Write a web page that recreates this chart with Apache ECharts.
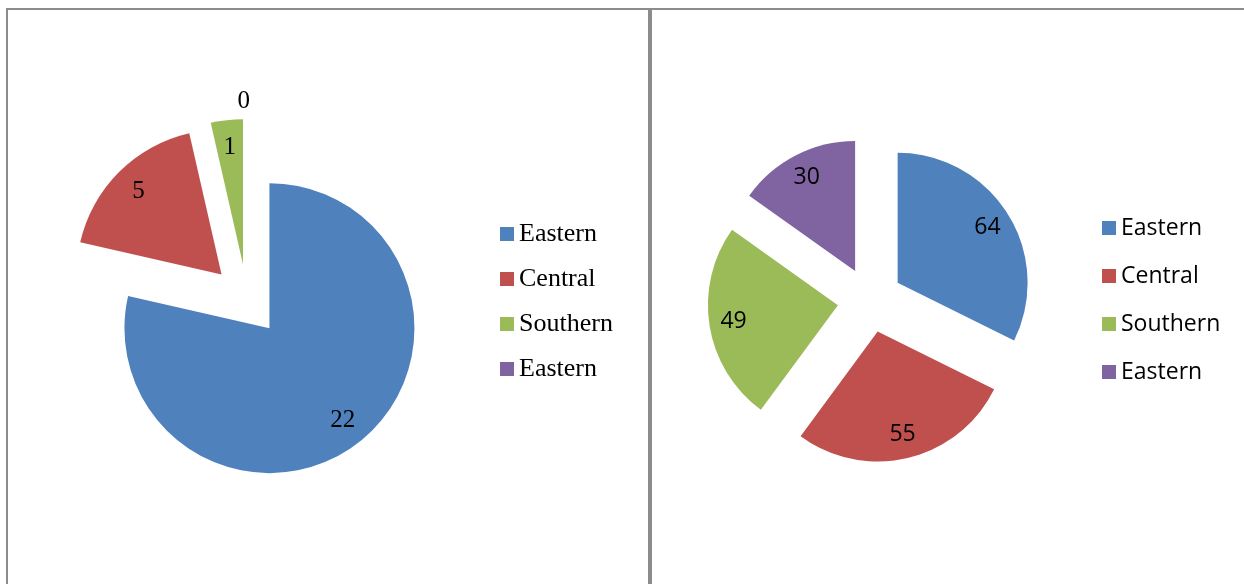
<!DOCTYPE html>
<html>
<head>
<meta charset="utf-8">
<script src="https://cdn.jsdelivr.net/npm/echarts@6/dist/echarts.min.js"></script>
<style>
  html, body { margin: 0; padding: 0; background: #fff; }
  #main { width: 1244px; height: 584px; }
</style>
</head>
<body>
<div id="main"></div>
<script>
// data
const categories = ['Eastern', 'Central', 'Southern', 'Eastern'];
const leftValues = [22, 5, 1, 0];
const rightValues = [64, 55, 49, 30];
const colors = ['#4F81BD', '#C0504D', '#9BBB59', '#8064A2'];

const serif = '"Liberation Serif", "Times New Roman", serif';
const sans = '"Open Sans", "Liberation Sans", sans-serif';

// the two "Eastern" entries need their own keys, or the legend merges them
const key = i => categories[i] + '#' + i;

function pieData(values, withStyle) {
  return values.map((v, i) => {
    const item = { name: key(i), value: v, selected: true };
    if (withStyle) item.itemStyle = { color: colors[i] };
    return item;
  });
}

// visible slices
function slices(values, center, r, offset) {
  return {
    type: 'pie',
    center: center,
    radius: [0, r],
    startAngle: 90,
    clockwise: true,
    selectedMode: 'multiple',
    selectedOffset: offset,
    avoidLabelOverlap: false,
    animation: false,
    label: { show: false },
    labelLine: { show: false },
    emphasis: { disabled: true },
    select: { itemStyle: { borderWidth: 0 } },
    itemStyle: { borderWidth: 0 },
    data: pieData(values, true)
  };
}

// transparent ring on top, only there to put the value labels at ~0.8 r
function labels(values, center, r, offset, font, size) {
  const data = pieData(values, false);
  data.forEach((d, i) => {
    if (values[i] === 0) {
      d.label = { position: 'outside' };
      d.labelLine = { show: false, length: 18, length2: -8 };
    }
  });
  return {
    type: 'pie',
    center: center,
    radius: [r * 0.58, r],
    startAngle: 90,
    clockwise: true,
    selectedMode: 'multiple',
    selectedOffset: offset,
    avoidLabelOverlap: false,
    animation: false,
    silent: true,
    itemStyle: { color: 'rgba(0,0,0,0)', borderWidth: 0 },
    emphasis: { disabled: true },
    select: { itemStyle: { color: 'rgba(0,0,0,0)', borderWidth: 0 } },
    label: {
      show: true,
      position: 'inside',
      formatter: p => String(p.value),
      color: '#000',
      fontFamily: font,
      fontSize: size
    },
    labelLine: { show: false },
    data: data
  };
}

function legend(left, top, gap, font, size) {
  return {
    orient: 'vertical',
    left: left,
    top: top,
    padding: 0,
    icon: 'rect',
    itemWidth: 14,
    itemHeight: 14,
    itemGap: gap,
    selectedMode: false,
    data: categories.map((c, i) => key(i)),
    formatter: n => n.split('#')[0],
    textStyle: { color: '#000', fontFamily: font, fontSize: size, lineHeight: 30 }
  };
}

const chart = echarts.init(document.getElementById('main'), null, { renderer: 'canvas' });
chart.setOption({
  backgroundColor: '#ffffff',
  animation: false,
  graphic: [
    { type: 'rect', shape: { x: 7, y: 9, width: 642, height: 600 },
      style: { fill: 'none', stroke: '#8c8c8c', lineWidth: 2 } },
    { type: 'rect', shape: { x: 651, y: 9, width: 700, height: 600 },
      style: { fill: 'none', stroke: '#8c8c8c', lineWidth: 2 } }
  ],
  legend: [
    legend(500, 219, 15, serif, 26),
    legend(1102, 213, 18, sans, 23)
  ],
  series: [
    slices(leftValues, [247, 300], 145, 36),
    slices(rightValues, [870, 300], 130, 32.5),
    labels(leftValues, [247, 300], 145, 36, serif, 25),
    labels(rightValues, [870, 300], 130, 32.5, sans, 23)
  ]
});
</script>
</body>
</html>
